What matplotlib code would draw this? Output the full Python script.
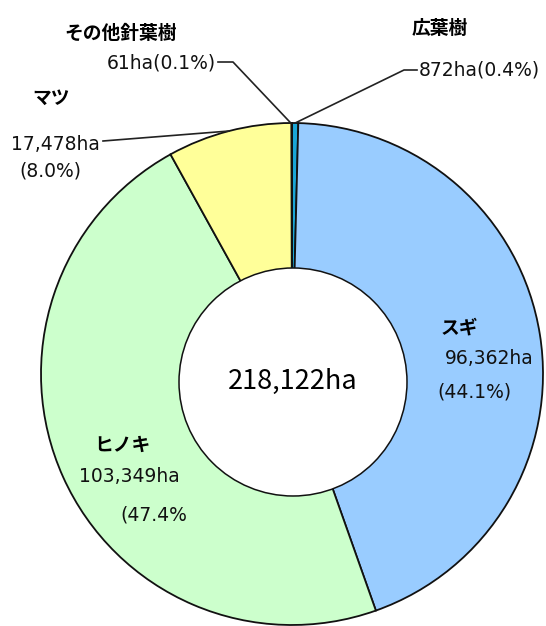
import matplotlib.pyplot as plt
from matplotlib.patches import Circle
import numpy as np

plt.rcParams['font.family'] = ['Noto Sans CJK JP', 'DejaVu Sans']

# data (clockwise from 12 o'clock)
names = ['広葉樹', 'スギ', 'ヒノキ', 'マツ', 'その他針葉樹']
areas = [872, 96362, 103349, 17478, 61]
pct_labels = ['0.4%', '44.1%', '47.4%', '8.0%', '0.1%']
colors = ['#1AA6D6', '#99CCFF', '#CCFFCC', '#FFFF99', '#FF99CC']
total_label = '218,122ha'

W, H = 546, 626
fig = plt.figure(figsize=(W / 100, H / 100), dpi=100)
ax = fig.add_axes([0, 0, 1, 1])

cx, cy, R = 292, H - 374, 251
wedges, _ = ax.pie(areas, colors=colors, startangle=90, counterclock=False,
                   center=(cx, cy), radius=R,
                   wedgeprops=dict(edgecolor='#111111', linewidth=1.3))

# hole
ax.add_patch(Circle((293, H - 382), 114, facecolor='white',
                    edgecolor='#111111', linewidth=1.1, zorder=3))
ax.text(293, H - 381, total_label, ha='center', va='center', fontsize=19.5,
        zorder=4)


def rim(i):
    w = wedges[i]
    a = np.deg2rad((w.theta1 + w.theta2) / 2)
    return cx + R * np.cos(a), cy + R * np.sin(a)


def fmt(v):
    return f'{v:,}ha'


fs = 13.5
lw = 1.2
num = dict(fontsize=13.5, family=['DejaVu Sans', 'Noto Sans CJK JP'],
           color='#111111')
lab = dict(fontsize=fs, fontweight='bold')

# 広葉樹
ax.text(440, H - 28, names[0], ha='center', va='center', **lab)
ax.text(419, H - 70, f'{fmt(areas[0])}({pct_labels[0]})', ha='left',
        va='center', **num)
x0, y0 = rim(0)
ax.plot([x0, 404, 417], [y0, H - 70, H - 70], color='#222222', lw=lw)

# その他針葉樹
ax.text(121, H - 33, names[4], ha='center', va='center', **lab)
ax.text(216, H - 63, f'{fmt(areas[4])}({pct_labels[4]})', ha='right',
        va='center', **num)
x0, y0 = rim(4)
ax.plot([218, 233, x0 - 1], [H - 62, H - 62, y0], color='#222222', lw=lw)

# マツ
ax.text(51, H - 98, names[3], ha='center', va='center', **lab)
ax.text(55, H - 144, fmt(areas[3]), ha='center', va='center', **num)
ax.text(50, H - 171, f'({pct_labels[3]})', ha='center', va='center', **num)
x0, y0 = rim(3)
ax.plot([103, x0], [H - 141, y0], color='#222222', lw=lw)

# スギ
ax.text(459, H - 328, names[1], ha='center', va='center', **lab)
ax.text(489, H - 359, fmt(areas[1]), ha='center', va='center', **num)
ax.text(474, H - 392, f'({pct_labels[1]})', ha='center', va='center', **num)

# ヒノキ
ax.text(122, H - 445, names[2], ha='center', va='center', **lab)
ax.text(129, H - 477, fmt(areas[2]), ha='center', va='center', **num)
ax.text(154, H - 515, f'({pct_labels[2]}', ha='center', va='center', **num)

ax.set_xlim(0, W)
ax.set_ylim(0, H)
ax.set_aspect('auto')
ax.axis('off')
fig.savefig('out.png', dpi=100)
